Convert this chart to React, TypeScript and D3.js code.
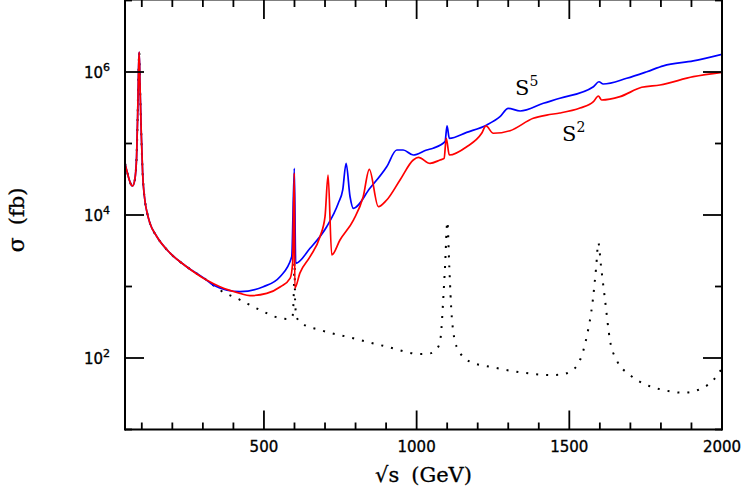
import React from "react";
import * as d3 from "d3";

type Pt = [number, number];

// sqrt(s) in GeV, sigma in fb. Below ~310 GeV the three curves coincide.
const zPoleRegion: Pt[] = [
  [45, 5.3e4], [52, 4.0e4], [59, 3.1e4], [65, 2.65e4], [70, 2.55e4], [77, 3.1e4],
  [83, 6.5e4], [86.4, 2.4e5], [89.6, 1.19e6], [91.5, 1.9e6], [94, 7.0e5], [98.3, 1.39e5],
  [102.8, 3.83e4], [110, 1.62e4], [118, 1.05e4], [127, 7.6e3], [149, 5.0e3], [192, 2.95e3],
  [247, 1.89e3], [312, 1.23e3],
];

const s5Values: Pt[] = [
  [333, 1.05e3], [421.6, 846], [498, 993], [552.6, 1.37e3], [591, 2.61e3], [599.5, 4.5e4],
  [604, 2.11e3], [651, 3.42e3], [705.5, 6.86e3], [743.5, 1.46e4], [758, 2.24e4], [769, 5.28e4],
  [782, 1.8e4], [792.7, 1.24e4], [847, 2.36e4], [902, 4.74e4], [935, 8.11e4], [956, 8.11e4],
  [989, 6.9e4], [1033, 8.11e4], [1054, 8.6e4], [1093, 1.06e5], [1099.6, 1.76e5], [1107, 1.18e5],
  [1164, 1.43e5], [1230, 1.82e5], [1273, 2.37e5], [1300, 3.1e5], [1339, 2.85e5], [1415, 3.65e5],
  [1469, 4.29e5], [1579, 6.23e5], [1597, 7.31e5], [1611, 6.79e5], [1688, 8.17e5], [1754, 1.01e6],
  [1808, 1.22e6], [1906, 1.43e6], [2000, 1.77e6],
];

const s2Values: Pt[] = [
  [356, 990], [422, 800], [454, 745], [509, 800], [554, 990], [586, 1.31e3], [594, 2.13e3],
  [599.5, 3.87e4], [601, 950], [618, 1.55e3], [651, 2.61e3], [683.5, 4.97e3], [700, 9.5e3],
  [710, 3.62e4], [722, 2.76e3], [749, 4.47e3], [793, 8.5e3], [825, 1.8e4], [845, 4.36e4],
  [874.5, 1.31e4], [902, 1.62e4], [945.6, 3.09e4], [989, 5.88e4], [1005.6, 6.41e4], [1044, 5.28e4],
  [1076.6, 5.88e4], [1090, 6.21e4], [1097, 1.18e5], [1107, 6.9e4], [1164, 9.0e4], [1213, 1.39e5],
  [1227, 1.76e5], [1251, 1.39e5], [1306, 1.51e5], [1382, 2.25e5], [1426, 2.5e5], [1469, 2.67e5],
  [1535, 3.14e5], [1579, 3.84e5], [1595, 4.62e5], [1606, 4.06e5], [1666, 4.52e5], [1737, 6.11e5],
  [1797, 6.58e5], [1906, 8.6e5], [2000, 9.9e5],
];

const smValues: Pt[] = [
  [356, 890], [421.6, 650], [487, 470], [553, 360], [585, 350], [594, 390], [598, 900],
  [600, 2.2e3], [602, 650], [606, 380], [623.6, 306], [683.6, 247], [792.7, 189], [902, 144],
  [1011, 114], [1044, 116], [1071, 144], [1079, 199], [1087, 647], [1093, 1.89e3],
  [1100.6, 8.06e3], [1107, 1.89e3], [1115, 378], [1131, 144], [1175, 88.7], [1251, 74],
  [1349.5, 62.2], [1437, 57.8], [1470, 58.5], [1502, 64.3], [1535, 93.7], [1557, 199],
  [1577, 647], [1588, 1.89e3], [1595, 4.1e3], [1604, 1.89e3], [1617, 647], [1633, 179],
  [1655, 93.7], [1699, 57.8], [1754, 41.9], [1808, 35.7], [1874, 32.7], [1934, 37.7],
  [1972, 49.2], [2000, 71.8],
];

const xTickLabels = [500, 1000, 1500, 2000];
const xMinorTicks = [100, 200, 300, 400, 600, 700, 800, 900, 1100, 1200, 1300, 1400, 1600, 1700, 1800, 1900];
const yLabelExponents = [2, 4, 6];
const yMinorExponents = [1, 3, 5, 7];

const App = () => {
  const width = 744;
  const height = 491;
  const left = 125;
  const right = 722;
  const top = 0.5;
  const bottom = 429.5;

  const x = d3.scaleLinear().domain([45, 2000]).range([left, right]);
  const y = d3.scaleLog().domain([10, 1e7]).range([bottom, top]);

  const line = d3
    .line<Pt>()
    .x((d) => x(d[0]))
    .y((d) => y(d[1]))
    .curve(d3.curveMonotoneX);

  const majorLen = 19;
  const minorLen = 7;
  const axisStroke = 2;

  return (
    <svg width={width} height={height} style={{ position: "absolute", left: 0, top: 0 }}>
      <defs>
        <clipPath id="plot">
          <rect x={left} y={0} width={right - left} height={bottom} />
        </clipPath>
      </defs>

      {/* curves */}
      <g clipPath="url(#plot)" fill="none">
        <path
          d={line([...zPoleRegion, ...smValues]) || ""}
          stroke="#000"
          strokeWidth={2}
          strokeDasharray="2 8"
        />
        <path d={line([...zPoleRegion, ...s5Values]) || ""} stroke="#0000ff" strokeWidth={1.7} />
        <path d={line([...zPoleRegion, ...s2Values]) || ""} stroke="#ff0000" strokeWidth={1.7} />
      </g>

      {/* frame */}
      <g stroke="#000" strokeWidth={axisStroke} fill="none">
        <line x1={left} x2={left} y1={-1} y2={bottom + 1} />
        <line x1={right} x2={right} y1={-1} y2={bottom + 1} />
        <line x1={left} x2={right} y1={bottom} y2={bottom} />
        <line x1={left} x2={right} y1={-0.5} y2={-0.5} />
      </g>

      {/* ticks */}
      <g stroke="#000" strokeWidth={1.8}>
        {xTickLabels.map((t) => (
          <g key={"xM" + t}>
            <line x1={x(t)} x2={x(t)} y1={bottom} y2={bottom - majorLen} />
            <line x1={x(t)} x2={x(t)} y1={0} y2={majorLen} />
          </g>
        ))}
        {xMinorTicks.map((t) => (
          <g key={"xm" + t}>
            <line x1={x(t)} x2={x(t)} y1={bottom} y2={bottom - minorLen} />
            <line x1={x(t)} x2={x(t)} y1={0} y2={minorLen} />
          </g>
        ))}
        {yLabelExponents.map((e) => (
          <g key={"yM" + e}>
            <line x1={left} x2={left + majorLen} y1={y(10 ** e)} y2={y(10 ** e)} />
            <line x1={right} x2={right - majorLen} y1={y(10 ** e)} y2={y(10 ** e)} />
          </g>
        ))}
        {yMinorExponents.map((e) => (
          <g key={"ym" + e}>
            <line x1={left} x2={left + minorLen} y1={y(10 ** e)} y2={y(10 ** e)} />
            <line x1={right} x2={right - minorLen} y1={y(10 ** e)} y2={y(10 ** e)} />
          </g>
        ))}
      </g>

      {/* tick labels */}
      <g fontFamily="DejaVu Sans" fill="#000" stroke="#000" strokeWidth={0.35}>
        {xTickLabels.map((t) => (
          <text key={"xl" + t} x={x(t)} y={452} fontSize={15} textAnchor="middle">
            {t}
          </text>
        ))}
        {yLabelExponents.map((e) => (
          <text key={"yl" + e} x={110} y={y(10 ** e) + 6} fontSize={15} textAnchor="end">
            10
            <tspan dy={-7} fontSize={11}>
              {e}
            </tspan>
          </text>
        ))}
      </g>

      {/* axis titles */}
      <g fontFamily="DejaVu Serif" fill="#000" stroke="#000" strokeWidth={0.3}>
        <text x={(left + right) / 2} y={482} fontSize={21} textAnchor="middle">
          √s
          <tspan dx={12}>(GeV)</tspan>
        </text>
        <text transform="translate(24,220) rotate(-90)" fontSize={22} textAnchor="middle">
          σ
          <tspan dx={12} fontSize={21}>
            (fb)
          </tspan>
        </text>
      </g>

      {/* curve labels */}
      <g fontFamily="DejaVu Serif" fill="#000">
        <text x={515} y={95} fontSize={21}>
          S
          <tspan dy={-9} fontSize={14}>
            5
          </tspan>
        </text>
        <text x={562} y={141} fontSize={21}>
          S
          <tspan dy={-9} fontSize={14}>
            2
          </tspan>
        </text>
      </g>
    </svg>
  );
};

export default App;
